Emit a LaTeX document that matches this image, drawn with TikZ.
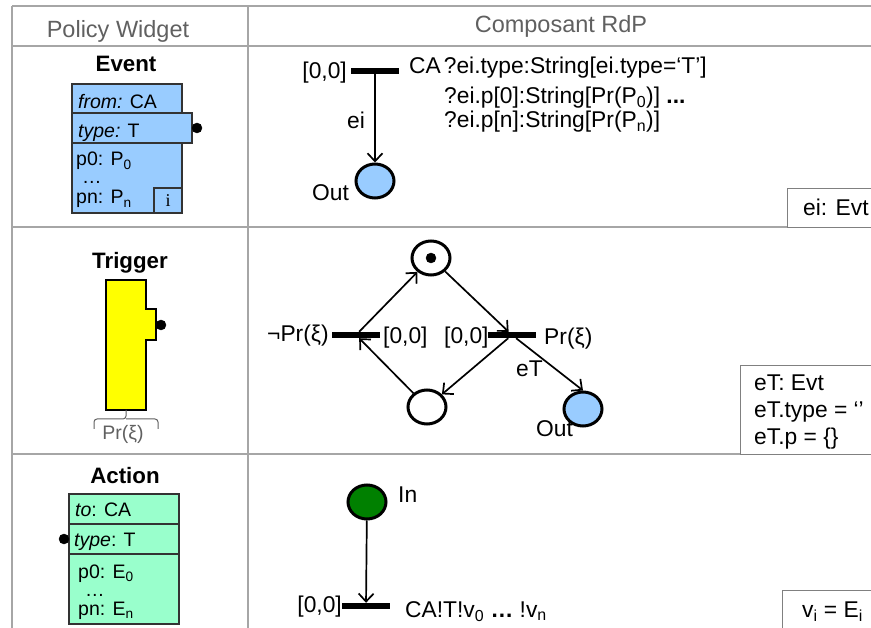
\documentclass[tikz,border=0pt]{standalone}
\usepackage{fontspec}
\setmainfont{Liberation Sans}
\usetikzlibrary{arrows.meta,shapes.geometric}
\definecolor{evtblue}{HTML}{99CCFF}
\definecolor{actgreen}{HTML}{99FFCC}
\definecolor{ingreen}{HTML}{008000}
\definecolor{trigyellow}{HTML}{FFFF00}
\definecolor{rulegray}{HTML}{A6A6A6}
\definecolor{headgray}{HTML}{606060}

\begin{document}
\begin{tikzpicture} [x=1pt,y=-1pt,>={Straight Barb[length=8pt,width=15pt]},
  place/.style= {shape=ellipse,minimum width=38pt,minimum height=34pt,inner sep=0,draw,line width=3pt},
  trans/.style= {shape=rectangle,minimum width=48pt,minimum height=6pt,inner sep=0,fill=black},
  lbl/.style= {anchor=base west,inner sep=0,font=\fontsize{22.8}{25}\selectfont},
  wlbl/.style= {anchor=base west,inner sep=0,font=\fontsize{19.5}{22}\selectfont},
  title/.style= {anchor=base,inner sep=0,font=\fontsize{22.3}{25}\selectfont\bfseries},
  head/.style= {anchor=base,inner sep=0,text=headgray,font=\fontsize{23.5}{26}\selectfont},
  widget/.style= {draw=black!80,line width=1.1pt},
  note/.style= {draw=black!50,line width=1pt,fill=white},
  arc/.style= {->,line width=1.7pt}]
\useasboundingbox (0,0) rectangle (871,628);

% table
\foreach \y in {6,46,227,454}{%
  \draw[rulegray,line width=1.3pt] (12,\y)--(871,\y);}
\foreach \x in {12,248}{%
  \draw[rulegray,line width=1.3pt] (\x,6)--(\x,628);}
\node[head] (headPolicy) at (118,38) {Policy Widget};
\node[head] (headRdp) at (561,33) {Composant RdP};

% event widget
\node[title] (titleEvent) at (126,72) {Event};
\draw[widget,fill=evtblue] (72,84) rectangle (182,213);
\draw[widget,fill=evtblue] (72,113) rectangle (192,143);
\draw[widget] (154,188) rectangle (182,213);
\draw[fill=black] (197,128) circle (5);
\node[wlbl] (evFrom) at (78,109) {\textit{from:} CA};
\node[wlbl] (evType) at (78,138) {\textit{type:} T};
\node[wlbl] (evP0) at (76,166) {p0: P\textsubscript{0}};
\node[wlbl] (evDots) at (82,184) {…};
\node[wlbl] (evPn) at (76,204) {pn: P\textsubscript{n}};
\node[anchor=base,inner sep=0,font=\fontspec{Liberation Serif}\fontsize{18}{20}\selectfont] (evInfo) at (168,207) {i};

% trigger widget
\node[title] (titleTrigger) at (130,269) {Trigger};
\draw[line width=1.1pt,fill=trigyellow] (106,280)--(146,280)--(146,309)--(156,309)--(156,340)--(146,340)--(146,410)--(106,410)--cycle;
\draw[fill=black] (161,325) circle (5);
\draw[headgray,line width=1pt,rounded corners=3pt] (94,429)--(94,419)--(126,419)--(126,410);
\draw[headgray,line width=1pt,rounded corners=3pt] (158,429)--(158,419)--(126,419);
\node[head,font=\fontsize{19.5}{22}\selectfont] (trigPr) at (123,439) {Pr(ξ)};

% action widget
\node[title] (titleAction) at (125,483) {Action};
\draw[widget,fill=actgreen] (69,494) rectangle (179,624);
\draw[widget] (69,524)--(179,524);
\draw[widget] (69,554)--(179,554);
\draw[fill=black] (64,539) circle (5);
\node[wlbl] (acTo) at (75,516) {\textit{to}: CA};
\node[wlbl] (acType) at (74,546) {\textit{type}: T};
\node[wlbl] (acP0) at (78,578) {p0: E\textsubscript{0}};
\node[wlbl] (acDots) at (85,596) {…};
\node[wlbl] (acPn) at (78,615) {pn: E\textsubscript{n}};

% event net
\node[trans] (evT) at (375,71) {};
\node[place,fill=evtblue] (evOut) at (375,181) {};
\draw[arc] (evT)--(evOut);
\node[lbl,anchor=base east] (evTime) at (347,79) {[0,0]};
\node[lbl] (evL1) at (409,74) {CA\hspace{3pt}?ei.type:String[ei.type=‘T’]};
\node[lbl] (evL2) at (444,104) {?ei.p[0]:String[Pr(P\textsubscript{0})] \textbf{...}};
\node[lbl] (evL3) at (444,128) {?ei.p[n]:String[Pr(P\textsubscript{n})]};
\node[lbl] (evArc) at (347,129) {ei};
\node[lbl] (evOutL) at (312,201) {Out};
\node[note,anchor=north west,minimum width=90pt,minimum height=39pt] (evNote) at (787,188) {};
\node[lbl] (evNoteL) at (803,216) {ei: Evt};

% trigger net
\node[place] (trTop) at (431,258) {};
\draw[fill=black] (trTop) circle (5);
\node[place] (trBot) at (427,407) {};
\node[place,fill=evtblue] (trOut) at (583,409) {};
\node[trans] (trL) at (356,335) {};
\node[trans] (trR) at (512,335) {};
\draw[arc] (trL)--(trTop);
\draw[arc] (trTop)--(trR);
\draw[arc] (trR)--(trBot);
\draw[arc] (trR)--(trOut.north);
\draw[arc] (trBot)--(trL);
\node[lbl] (trNot) at (267,342) {¬Pr(ξ)};
\node[lbl] (trTimeL) at (383,344) {[0,0]};
\node[lbl] (trTimeR) at (444,344) {[0,0]};
\node[lbl] (trPr) at (544,345) {Pr(ξ)};
\node[lbl] (trArc) at (516,377) {eT};
\node[lbl] (trOutL) at (536,437) {Out};
\node[note,anchor=north west,minimum width=140pt,minimum height=89pt] (trNote) at (740,365) {};
\node[lbl] (trN1) at (754,391) {eT: Evt};
\node[lbl] (trN2) at (754,418) {eT.type = ‘’};
\node[lbl] (trN3) at (754,445) {eT.p = \{\}};

% action net
\node[place,fill=ingreen] (acIn) at (367,502) {};
\node[trans] (acT) at (366,606) {};
\draw[arc] (acIn)--(acT);
\node[lbl] (acInL) at (398,503) {In};
\node[lbl,anchor=base east] (acTime) at (342,612) {[0,0]};
\node[lbl] (acOut) at (405,617) {CA!T!v\textsubscript{0} \textbf{…} !v\textsubscript{n}};
\node[note,anchor=north west,minimum width=100pt,minimum height=50pt] (acNote) at (782,590) {};
\node[lbl] (acNoteL) at (802,617) {v\textsubscript{i} = E\textsubscript{i}};
\end{tikzpicture}
\end{document}
